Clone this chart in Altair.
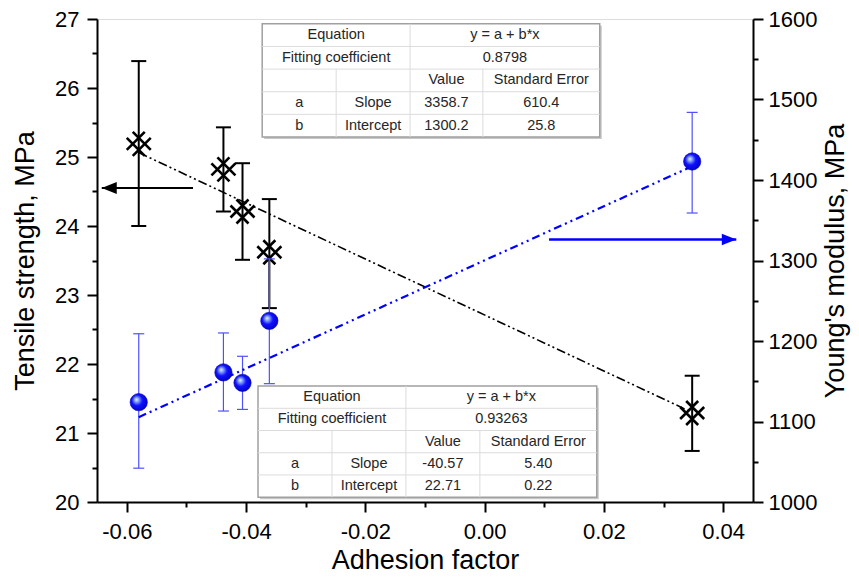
import altair as alt
import pandas as pd

# ---------------- data ----------------
adhesion = [-0.058, -0.0438, -0.0406, -0.0361, 0.0348]
tensile = [25.19, 24.82, 24.21, 23.62, 21.29]
tensile_lo = [24.00, 24.21, 23.51, 22.81, 20.74]
tensile_hi = [26.39, 25.43, 24.91, 24.39, 21.83]

young = [1124, 1161, 1148, 1225, 1423]
young_lo = [1042, 1113, 1115, 1147, 1359]
young_hi = [1209, 1210, 1181, 1302, 1484]

# linear fits (intercept, slope) from the tables
tensile_fit = (22.71, -40.57)
young_fit = (1300.2, 3358.7)

x_ticks = [-0.06, -0.05, -0.04, -0.03, -0.02, -0.01, 0.0, 0.01, 0.02, 0.03, 0.04]
yl_ticks = [20, 20.5, 21, 21.5, 22, 22.5, 23, 23.5, 24, 24.5, 25, 25.5, 26, 26.5, 27]
yr_ticks = [1000, 1050, 1100, 1150, 1200, 1250, 1300, 1350, 1400, 1450, 1500, 1550, 1600]

# arrows (axis indicators)
black_arrow = {"x_from": -0.0489, "x_to": -0.0642, "y": 24.55}
blue_arrow = {"x_from": 0.0108, "x_to": 0.0422, "y": 1326}

table_top_rows = [
    ["Equation", "y = a + b*x"],
    ["Fitting coefficient", "0.8798"],
    ["", "", "Value", "Standard Error"],
    ["a", "Slope", "3358.7", "610.4"],
    ["b", "Intercept", "1300.2", "25.8"],
]
table_bottom_rows = [
    ["Equation", "y = a + b*x"],
    ["Fitting coefficient", "0.93263"],
    ["", "", "Value", "Standard Error"],
    ["a", "Slope", "-40.57", "5.40"],
    ["b", "Intercept", "22.71", "0.22"],
]
# table placement (x in adhesion units, y in tensile units)
table_top_cols = [-0.0373, -0.0249, -0.0125, -0.0003, 0.0193]
table_top_y = (26.93, 25.29)
table_bottom_cols = [-0.0380, -0.0256, -0.0132, -0.0008, 0.0188]
table_bottom_y = (21.68, 20.07)

FONT = "Liberation Sans"

# ---------------- scales / axes ----------------
XSC = alt.Scale(domain=[-0.065, 0.045], nice=False, zero=False)
YLSC = alt.Scale(domain=[20, 27], nice=False, zero=False)
YRSC = alt.Scale(domain=[1000, 1600], nice=False, zero=False)

common_axis = dict(
    domainColor="black", domainWidth=2, tickColor="black", tickWidth=2,
    labelColor="black", labelFont=FONT, labelFontSize=22, titleFont=FONT,
    titleFontSize=27, titleFontWeight="normal", titleColor="black",
    grid=False, labelOverlap=False, labelFlush=False, tickOpacity=1,
)

x_axis = alt.Axis(
    orient="bottom", values=x_ticks,
    labelExpr="abs(round(datum.value*100)) % 2 == 0 ? replace(format(datum.value, '.2f'), '\u2212', '-') : ''",
    tickSize={"condition": {"test": "abs(round(datum.value*100)) % 2 == 0", "value": 10}, "value": 5},
    labelPadding=9, titleBaseline="alphabetic", titleY=66,
    **common_axis,
)
yl_axis = alt.Axis(
    orient="left", values=yl_ticks,
    labelExpr="datum.value % 1 == 0 ? format(datum.value, 'd') : ''",
    tickSize={"condition": {"test": "datum.value % 1 == 0", "value": 10}, "value": 5},
    labelPadding=8, titleAngle=270, titleBaseline="alphabetic", titleX=-64, titleY=241.5,
    **common_axis,
)
yr_axis = alt.Axis(
    orient="right", values=yr_ticks,
    labelExpr="datum.value % 100 == 0 ? format(datum.value, 'd') : ''",
    tickSize={"condition": {"test": "datum.value % 100 == 0", "value": 10}, "value": 5},
    labelPadding=5, titleAngle=270, titleBaseline="alphabetic", titleX=90, titleY=241.5,
    **common_axis,
)

XT = "Adhesion factor"
YLT = "Tensile strength, MPa"
YRT = "Young's modulus, MPa"


def X(f):
    return alt.X(f"{f}:Q", scale=XSC, axis=x_axis, title=XT)


def YL(f):
    return alt.Y(f"{f}:Q", scale=YLSC, axis=yl_axis, title=YLT)


def YR(f):
    return alt.Y(f"{f}:Q", scale=YRSC, axis=yr_axis, title=YRT)


ts_df = pd.DataFrame({"x": adhesion, "y": tensile, "lo": tensile_lo, "hi": tensile_hi})
ym_df = pd.DataFrame({"x": adhesion, "y": young, "lo": young_lo, "hi": young_hi})

xmin, xmax = min(adhesion), max(adhesion)
ts_fit_df = pd.DataFrame({"x": [xmin, xmax],
                          "y": [tensile_fit[0] + tensile_fit[1] * xmin, tensile_fit[0] + tensile_fit[1] * xmax]})
ym_fit_df = pd.DataFrame({"x": [xmin, xmax],
                          "y": [young_fit[0] + young_fit[1] * xmin, young_fit[0] + young_fit[1] * xmax]})

CROSS = "M -1 -0.5 L 0.5 1 M -0.5 -1 L 1 0.5 M -1 0.5 L 0.5 -1 M -0.5 1 L 1 -0.5"
HEAD_LEFT = "M 0 0 L 2 -0.8 L 2 0.8 Z"
HEAD_RIGHT = "M 0 0 L -2 -0.8 L -2 0.8 Z"

# ---------------- left (tensile) layers ----------------
ts_fit_line = alt.Chart(ts_fit_df).mark_line(
    color="black", strokeWidth=1.6, strokeDash=[9, 3, 2, 3, 2, 3]
).encode(x=X("x"), y=YL("y"))
ts_err = alt.Chart(ts_df).mark_rule(color="black", strokeWidth=2).encode(
    x=X("x"), y=YL("lo"), y2=alt.Y2("hi"))
ts_cap_lo = alt.Chart(ts_df).mark_tick(orient="horizontal", size=15, thickness=2, color="black", opacity=1).encode(
    x=X("x"), y=YL("lo"))
ts_cap_hi = alt.Chart(ts_df).mark_tick(orient="horizontal", size=15, thickness=2, color="black", opacity=1).encode(
    x=X("x"), y=YL("hi"))
ts_pts = alt.Chart(ts_df).mark_point(
    shape=CROSS, size=576, filled=False, color="black", strokeWidth=2.6, opacity=1
).encode(x=X("x"), y=YL("y"))

ba_df = pd.DataFrame({"x": [black_arrow["x_from"]], "x2": [black_arrow["x_to"]], "y": [black_arrow["y"]]})
ba_line = alt.Chart(ba_df).mark_rule(color="black", strokeWidth=2).encode(
    x=X("x"), x2=alt.X2("x2"), y=YL("y"))
ba_head = alt.Chart(ba_df).mark_point(shape=HEAD_LEFT, size=225, filled=True, color="black", opacity=1).encode(
    x=X("x2"), y=YL("y"))


def table_layers(rows, cols, ytb):
    ytop, ybot = ytb
    n = len(rows)
    h = (ytop - ybot) / n
    edges = [ytop - i * h for i in range(n + 1)]
    box = pd.DataFrame({"x": [cols[0]], "x2": [cols[-1]], "y": [ytop], "y2": [ybot]})
    shadow = alt.Chart(box).mark_rect(fill="#c8c8c8", xOffset=2, yOffset=2, x2Offset=2, y2Offset=2).encode(
        x=X("x"), x2=alt.X2("x2"), y=YL("y"), y2=alt.Y2("y2"))
    frame = alt.Chart(box).mark_rect(fill="white", stroke="#a0a0a0", strokeWidth=1.5).encode(
        x=X("x"), x2=alt.X2("x2"), y=YL("y"), y2=alt.Y2("y2"))
    hl = pd.DataFrame({"x": [cols[0]] * (n - 1), "x2": [cols[-1]] * (n - 1), "y": edges[1:-1]})
    hlines = alt.Chart(hl).mark_rule(color="#dcdcdc", strokeWidth=1).encode(
        x=X("x"), x2=alt.X2("x2"), y=YL("y"))
    vl = pd.DataFrame({"x": [cols[2], cols[1], cols[3]], "y": [ytop, edges[2], edges[2]], "y2": [ybot, ybot, ybot]})
    vlines = alt.Chart(vl).mark_rule(color="#dcdcdc", strokeWidth=1).encode(
        x=X("x"), y=YL("y"), y2=alt.Y2("y2"))
    tx, ty, tt = [], [], []
    for i, r in enumerate(rows):
        yc = (edges[i] + edges[i + 1]) / 2
        if len(r) == 2:
            centers = [(cols[0] + cols[2]) / 2, (cols[2] + cols[4]) / 2]
        else:
            centers = [(cols[j] + cols[j + 1]) / 2 for j in range(4)]
        for c, t in zip(centers, r):
            if t:
                tx.append(c)
                ty.append(yc)
                tt.append(t)
    tdf = pd.DataFrame({"x": tx, "y": ty, "t": tt})
    texts = alt.Chart(tdf).mark_text(font=FONT, fontSize=14.5, color="#262626", baseline="middle", align="center").encode(
        x=X("x"), y=YL("y"), text="t:N")
    return [shadow, frame, hlines, vlines, texts]


left = alt.layer(
    ts_fit_line, ts_err, ts_cap_lo, ts_cap_hi, ts_pts, ba_line, ba_head,
    *table_layers(table_top_rows, table_top_cols, table_top_y),
    *table_layers(table_bottom_rows, table_bottom_cols, table_bottom_y),
)

# ---------------- right (Young's modulus) layers ----------------
BLUE = "#0000ff"
EBLUE = "#5050ff"
ym_err = alt.Chart(ym_df).mark_rule(color=EBLUE, strokeWidth=1.2).encode(
    x=X("x"), y=YR("lo"), y2=alt.Y2("hi"))
ym_cap_lo = alt.Chart(ym_df).mark_tick(orient="horizontal", size=11, thickness=1.2, color=EBLUE, opacity=1).encode(
    x=X("x"), y=YR("lo"))
ym_cap_hi = alt.Chart(ym_df).mark_tick(orient="horizontal", size=11, thickness=1.2, color=EBLUE, opacity=1).encode(
    x=X("x"), y=YR("hi"))
ym_fit_line = alt.Chart(ym_fit_df).mark_line(
    color=BLUE, strokeWidth=2.2, strokeDash=[8, 4, 2, 4, 2, 4]
).encode(x=X("x"), y=YR("y"))
sphere_fill = alt.Gradient(
    gradient="radial",
    stops=[alt.GradientStop(offset=0, color="#eef6ff"),
           alt.GradientStop(offset=0.22, color="#7d9cff"),
           alt.GradientStop(offset=0.5, color="#1010ff"),
           alt.GradientStop(offset=1, color="#0000c0")],
    x1=0.36, y1=0.34, r1=0, x2=0.45, y2=0.45, r2=0.62,
)
ym_pts = alt.Chart(ym_df).mark_circle(size=300, fill=sphere_fill, opacity=1, stroke="#0000b0", strokeWidth=0.6).encode(
    x=X("x"), y=YR("y"))

bl_df = pd.DataFrame({"x": [blue_arrow["x_from"]], "x2": [blue_arrow["x_to"]], "y": [blue_arrow["y"]]})
bl_line = alt.Chart(bl_df).mark_rule(color=BLUE, strokeWidth=2.5).encode(
    x=X("x"), x2=alt.X2("x2"), y=YR("y"))
bl_head = alt.Chart(bl_df).mark_point(shape=HEAD_RIGHT, size=210, filled=True, color=BLUE, opacity=1).encode(
    x=X("x2"), y=YR("y"))

right = alt.layer(ym_err, ym_cap_lo, ym_cap_hi, ym_fit_line, ym_pts, bl_line, bl_head)

chart = alt.layer(left, right).resolve_scale(y="independent").properties(
    width=656, height=483,
    autosize=alt.AutoSizeParams(type="none"),
    padding={"left": 89, "top": 11, "right": 98, "bottom": 73},
    background="white",
).configure_view(stroke="black", strokeWidth=2).configure(font=FONT)

chart.save("out.html", embed_options={"renderer": "svg", "actions": False})
